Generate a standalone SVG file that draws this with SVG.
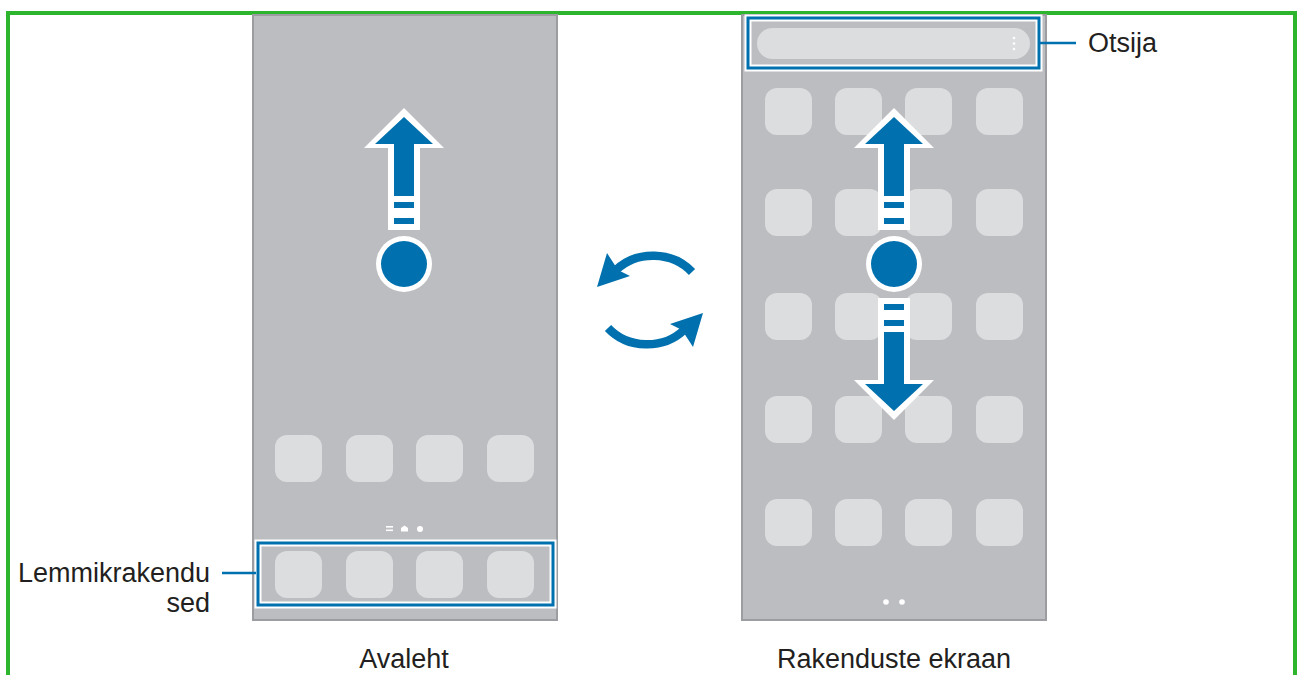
<svg xmlns="http://www.w3.org/2000/svg" xmlns:xlink="http://www.w3.org/1999/xlink" width="1299" height="675" viewBox="0 0 1299 675">
<style>
.phone{fill:#bcbdc0;stroke:#9c9da0;stroke-width:2}
.icon{fill:#dcdddf}
.blue{fill:#0071ae}
.wh{fill:#ffffff}
.hl{fill:none;stroke:#0071ae;stroke-width:3}
.hlw{fill:none;stroke:#ffffff;stroke-width:7}
.lead{stroke:#0071ae;stroke-width:2.5;fill:none}
.lbl{font-family:"Liberation Sans",Arial,sans-serif;font-size:27px;fill:#231f20}
</style>
<defs>
<g id="swipe">
<polygon class="wh" points="0,-156 40,-116 16,-116 16,-34 -16,-34 -16,-116 -40,-116"/>
<polygon class="blue" points="0,-147 29,-120 10,-120 10,-68 -10,-68 -10,-120 -29,-120"/>
<rect class="blue" x="-10" y="-62" width="20" height="6"/>
<rect class="blue" x="-10" y="-46" width="20" height="6"/>
</g>
<g id="cyc">
<path d="M692 272 A51 46 0 0 0 616 270" fill="none" stroke="#0071ae" stroke-width="8.5"/>
<polygon class="blue" points="597,287 607,253 618,270 630,276"/>
</g>
</defs>
<rect x="8" y="13" width="1287" height="700" fill="#ffffff" stroke="#2db52d" stroke-width="4"/>

<g id="home-screen">
<rect class="phone" x="253" y="15" width="304" height="605"/>
<rect class="icon" x="275" y="435" width="47" height="47" rx="12"/>
<rect class="icon" x="346" y="435" width="47" height="47" rx="12"/>
<rect class="icon" x="416" y="435" width="47" height="47" rx="12"/>
<rect class="icon" x="487" y="435" width="47" height="47" rx="12"/>
<rect class="wh" x="386" y="526" width="7" height="1.6"/>
<rect class="wh" x="386" y="529.5" width="7" height="1.6"/>
<path class="wh" d="M401 531.5 L401 528 L404.5 525.5 L408 528 L408 531.5 Z"/>
<circle class="wh" cx="420" cy="529" r="3"/>
<rect class="hlw" x="258" y="543" width="295" height="62"/>
<rect class="hl" x="258" y="543" width="295" height="62"/>
<rect class="icon" x="275" y="551" width="47" height="47" rx="12"/>
<rect class="icon" x="346" y="551" width="47" height="47" rx="12"/>
<rect class="icon" x="416" y="551" width="47" height="47" rx="12"/>
<rect class="icon" x="487" y="551" width="47" height="47" rx="12"/>
<use href="#swipe" x="404" y="264"/>
<circle class="wh" cx="404" cy="264" r="28"/>
<circle class="blue" cx="404" cy="264" r="23"/>
</g>

<g id="apps-screen">
<rect class="phone" x="742" y="15" width="304" height="605"/>
<rect class="hlw" x="748" y="18" width="291" height="50"/>
<rect class="hl" x="748" y="18" width="291" height="50"/>
<rect class="icon" x="757" y="28" width="273" height="31" rx="15.5"/>
<circle class="wh" cx="1014" cy="38" r="1.3"/>
<circle class="wh" cx="1014" cy="43.5" r="1.3"/>
<circle class="wh" cx="1014" cy="49" r="1.3"/>
<g id="app-grid">
<rect class="icon" x="765" y="88" width="47" height="47" rx="12"/>
<rect class="icon" x="835" y="88" width="47" height="47" rx="12"/>
<rect class="icon" x="905" y="88" width="47" height="47" rx="12"/>
<rect class="icon" x="976" y="88" width="47" height="47" rx="12"/>
<rect class="icon" x="765" y="189" width="47" height="47" rx="12"/>
<rect class="icon" x="835" y="189" width="47" height="47" rx="12"/>
<rect class="icon" x="905" y="189" width="47" height="47" rx="12"/>
<rect class="icon" x="976" y="189" width="47" height="47" rx="12"/>
<rect class="icon" x="765" y="293" width="47" height="47" rx="12"/>
<rect class="icon" x="835" y="293" width="47" height="47" rx="12"/>
<rect class="icon" x="905" y="293" width="47" height="47" rx="12"/>
<rect class="icon" x="976" y="293" width="47" height="47" rx="12"/>
<rect class="icon" x="765" y="396" width="47" height="47" rx="12"/>
<rect class="icon" x="835" y="396" width="47" height="47" rx="12"/>
<rect class="icon" x="905" y="396" width="47" height="47" rx="12"/>
<rect class="icon" x="976" y="396" width="47" height="47" rx="12"/>
<rect class="icon" x="765" y="499" width="47" height="47" rx="12"/>
<rect class="icon" x="835" y="499" width="47" height="47" rx="12"/>
<rect class="icon" x="905" y="499" width="47" height="47" rx="12"/>
<rect class="icon" x="976" y="499" width="47" height="47" rx="12"/>
</g>
<circle class="wh" cx="886" cy="602" r="2.8"/>
<circle class="wh" cx="902" cy="602" r="2.8"/>
<use href="#swipe" transform="translate(894 264)"/>
<use href="#swipe" transform="translate(894 264) scale(1 -1)"/>
<circle class="wh" cx="894" cy="264" r="28"/>
<circle class="blue" cx="894" cy="264" r="23"/>
</g>

<g id="switch-icon">
<use href="#cyc"/>
<use href="#cyc" transform="rotate(180 650 300)"/>
</g>

<g id="connectors">
<line class="lead" x1="1040" y1="43" x2="1076" y2="43"/>
<line class="lead" x1="222" y1="573" x2="256" y2="573"/>
</g>

<g id="labels">
<text class="lbl" x="1088" y="52">Otsija</text>
<text class="lbl" x="210" y="582" text-anchor="end">Lemmikrakendu</text>
<text class="lbl" x="210" y="612" text-anchor="end">sed</text>
<text class="lbl" x="404" y="668" text-anchor="middle">Avaleht</text>
<text class="lbl" x="894" y="668" text-anchor="middle">Rakenduste ekraan</text>
</g>
</svg>
